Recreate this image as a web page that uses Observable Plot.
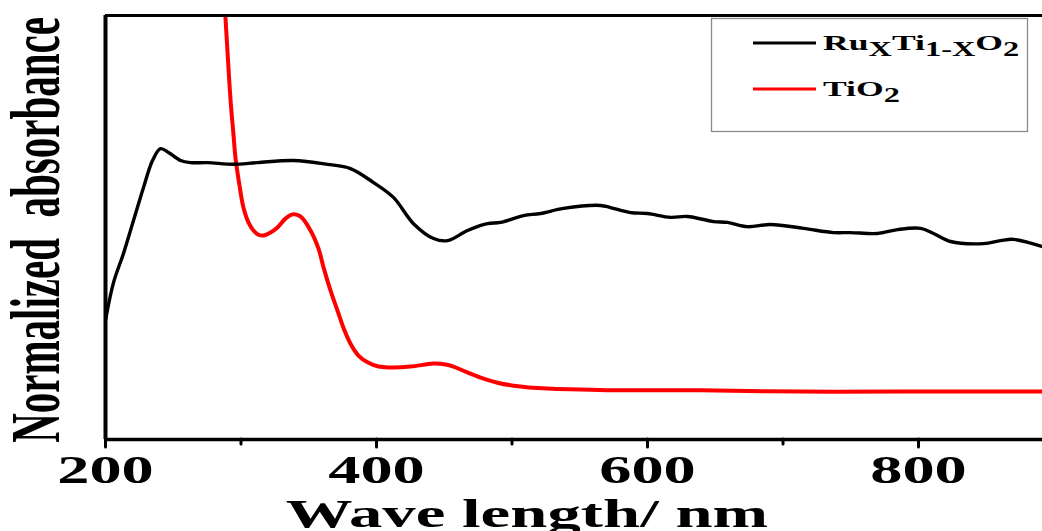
<!DOCTYPE html>
<html><head><meta charset="utf-8">
<script src="https://cdn.jsdelivr.net/npm/d3@7"></script>
<script src="https://cdn.jsdelivr.net/npm/@observablehq/plot@0.6"></script>
<style>body{margin:0;background:#fff;overflow:hidden}</style>
</head><body><div id="chart"></div>
<script>
// Ru_xTi_(1-x)O2 spectrum: wavelength (nm) and normalized absorbance
const wlRu  = [200,205.9,213.3,220.7,228.0,234.7,240.6,246.5,255.4,262.7,275.3,294.5,312.2,338.7,363.8,380.8,397.8,412.5,427.3,442.1,452.4,467.2,481.9,491.5,508.5,521.0,538.0,565.3,572.7,587.5,600.0,617.0,629.5,648.7,659.0,673.8,690.8,715.1,737.3,749.8,769.7,784.5,801.5,811.1,823.6,848.0,860.5,870.1,891.5];
const absRu = [0.281,0.370,0.439,0.517,0.594,0.658,0.686,0.677,0.658,0.653,0.653,0.649,0.653,0.658,0.649,0.639,0.606,0.571,0.509,0.474,0.469,0.493,0.509,0.512,0.528,0.533,0.545,0.552,0.547,0.535,0.533,0.524,0.526,0.514,0.512,0.502,0.507,0.498,0.488,0.488,0.486,0.495,0.498,0.486,0.467,0.462,0.469,0.472,0.455];
// TiO2 spectrum
const wlTi  = [287.8,290.0,292.3,294.5,295.9,298.9,301.8,305.5,309.2,312.9,316.6,321.8,326.9,332.8,338.7,343.9,351.3,357.2,360.9,366.1,371.2,376.4,380.8,386.7,393.4,401.5,410.3,425.1,442.1,451.0,456.8,465.7,476.8,489.3,501.1,526.2,550.6,580.1,639.1,712.9,786.7,891.5];
const absTi = [1.035,0.917,0.800,0.717,0.665,0.599,0.547,0.512,0.493,0.483,0.481,0.488,0.500,0.521,0.531,0.526,0.493,0.450,0.406,0.351,0.304,0.257,0.226,0.198,0.182,0.172,0.170,0.172,0.179,0.177,0.172,0.160,0.146,0.134,0.127,0.120,0.118,0.116,0.116,0.113,0.113,0.113];
const seriesColors = ["#000000", "#ff0000"];
// legend labels as [text, isSubscript] parts
const labelRu = [["Ru",0],["X",1],["Ti",0],["1-X",1],["O",0],["2",1]];
const labelTi = [["Ti",0],["O",0],["2",1]];
const majorTicks = [200,400,600,800];
const minorTicks = [300,500,700];
const xTitle = "Wave length/ nm";
const yTitle = "Normalized\u00a0\u00a0absorbance";

const ru = wlRu.map((x,i)=>({x, y: absRu[i]}));
const ti = wlTi.map((x,i)=>({x, y: absTi[i]}));
const font = "'Liberation Serif','Times New Roman',serif";

const svg = Plot.plot({
  width: 1042, height: 531,
  marginLeft: 105, marginRight: 0, marginTop: 15, marginBottom: 92,
  x: {domain: [200, 891.5], label: null},
  y: {domain: [0, 1], axis: null},
  style: {background: "white", fontFamily: font, overflow: "visible"},
  marks: [
    Plot.line(ti, {x: "x", y: "y", stroke: seriesColors[1], strokeWidth: 4, curve: "catmull-rom", clip: true}),
    Plot.line(ru, {x: "x", y: "y", stroke: seriesColors[0], strokeWidth: 3.4, curve: "catmull-rom", clip: true}),
    Plot.axisX({ticks: minorTicks, tickSize: 5, tickFormat: () => "", label: null, strokeWidth: 3, strokeLinecap: "round"}),
    Plot.axisX({ticks: majorTicks, tickSize: 8, tickPadding: 8, label: null, strokeWidth: 3, strokeLinecap: "round",
      tickFormat: d3.format("d"), fontSize: 39, fontWeight: "bold", fill: "black"}),
    Plot.ruleY([0], {stroke: "black", strokeWidth: 3.5}),
    Plot.ruleY([1], {stroke: "black", strokeWidth: 3}),
    Plot.ruleX([200], {stroke: "black", strokeWidth: 4})
  ]
});
document.getElementById("chart").appendChild(svg);

const s = d3.select(svg);
// stretch tick labels horizontally like the reference
s.selectAll("g[aria-label='x-axis tick label'] text").each(function(){
  const t = this.getAttribute("transform") || "";
  this.setAttribute("transform", t + " scale(1.65,1)");
});
s.selectAll("text").attr("fill", "black");

// axis titles
s.append("text").attr("transform", "translate(527,527) scale(1.67,1)")
  .attr("text-anchor", "middle").attr("font-family", font).attr("font-weight", "bold")
  .attr("font-size", 40).attr("fill", "black").text(xTitle);
s.append("text").attr("transform", "translate(59,230) scale(1.7,1) rotate(-90)")
  .attr("text-anchor", "middle").attr("font-family", font).attr("font-weight", "bold")
  .attr("font-size", 41).attr("fill", "black").text(yTitle);

// legend
const lg = s.append("g");
lg.append("rect").attr("x", 711.5).attr("y", 18.5).attr("width", 316).attr("height", 113)
  .attr("fill", "white").attr("stroke", "#8a8a8a").attr("stroke-width", 1.3);
[[labelRu, 43, seriesColors[0]], [labelTi, 89, seriesColors[1]]].forEach(([parts, y, c]) => {
  lg.append("line").attr("x1", 753).attr("x2", 816).attr("y1", y).attr("y2", y)
    .attr("stroke", c).attr("stroke-width", 3);
  const t = lg.append("text").attr("transform", `translate(823,${y + 7}) scale(1.62,1)`)
    .attr("text-anchor", "start")
    .attr("font-family", font).attr("font-weight", "bold").attr("font-size", 22).attr("fill", "black");
  let prevSub = 0;
  parts.forEach(([txt, sub]) => {
    const dy = (sub - prevSub) * 6;
    t.append("tspan").attr("dy", dy).attr("font-size", sub ? 20 : 22).text(txt);
    prevSub = sub;
  });
});
</script>
</body></html>
